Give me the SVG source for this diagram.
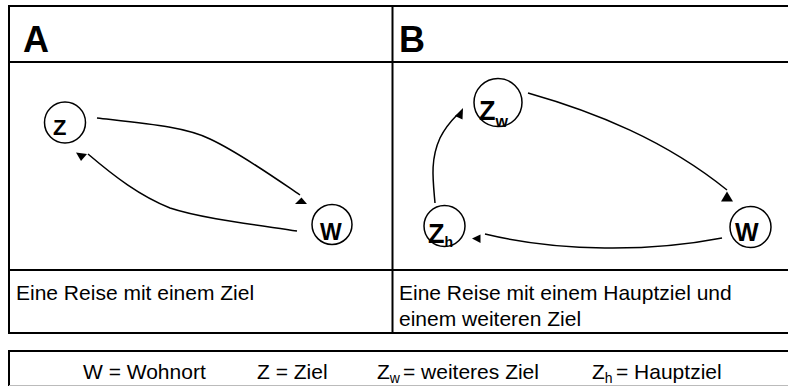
<svg xmlns="http://www.w3.org/2000/svg" width="788" height="386" viewBox="0 0 788 386">
<style>
.frame{fill:none;stroke:#000;stroke-width:2}
.node{fill:#fff;stroke:#000;stroke-width:1.5}
.lbl{font-family:"Liberation Sans",Arial,sans-serif;font-weight:bold;fill:#000}
.txt{font-family:"Liberation Sans",Arial,sans-serif;font-size:21px;fill:#000}
.head{font-family:"Liberation Sans",Arial,sans-serif;font-weight:bold;font-size:36px;fill:#000}
.edge{fill:none;stroke:#000;stroke-width:1.5}
.tip{fill:#000;stroke:none}
</style>
<rect width="788" height="386" fill="#fff"/>
<g id="table">
<line class="frame" x1="9" y1="6" x2="788" y2="6"/>
<line class="frame" x1="9" y1="62" x2="788" y2="62"/>
<line class="frame" x1="9" y1="270" x2="788" y2="270"/>
<line class="frame" x1="9" y1="333" x2="788" y2="333"/>
<line class="frame" x1="9" y1="5" x2="9" y2="334"/>
<line class="frame" x1="392.5" y1="6" x2="392.5" y2="334"/>
<text class="head" x="23" y="51.5">A</text>
<text class="head" x="399" y="51.5">B</text>
<text class="txt" x="16" y="300">Eine Reise mit einem Ziel</text>
<text class="txt" x="399" y="299.5">Eine Reise mit einem Hauptziel und</text>
<text class="txt" x="399" y="325.5">einem weiteren Ziel</text>
</g>
<g id="legend">
<line class="frame" x1="9" y1="351" x2="788" y2="351"/>
<line class="frame" x1="9" y1="350" x2="9" y2="386"/>
<line x1="9" y1="385.5" x2="788" y2="385.5" stroke="#bbb" stroke-width="1"/>
<text class="txt" x="83" y="379">W = Wohnort</text>
<text class="txt" x="257" y="379">Z = Ziel</text>
<text class="txt" x="377" y="379">Z<tspan font-size="14" dy="4">w</tspan><tspan dy="-4" x="403">= weiteres Ziel</tspan></text>
<text class="txt" x="592" y="379">Z<tspan font-size="14" dy="4">h</tspan><tspan dy="-4" x="616">= Hauptziel</tspan></text>
</g>
<g id="connectors">
<path class="edge" d="M97,118 C150,124 185,127 210,139 C240,153 275,178 300,195"/>
<polygon class="tip" points="301.5,197.5 295,204 307,204"/>
<path class="edge" d="M297,231 C250,224 200,218 170,208 C140,196 115,177 88,154"/>
<polygon class="tip" points="76,152.5 87,154 81,161"/>
<path class="edge" d="M528,93 C595,112 665,140 727,190"/>
<polygon class="tip" points="727,191.5 721,201.5 733,201.5"/>
<path class="edge" d="M722,238 C650,252 560,252 485,234"/>
<polygon class="tip" points="472,238.5 480.5,234.5 480.5,243"/>
<path class="edge" d="M435,203 C433,180 430,160 440,138 C445,128 450,122 457,115"/>
<polygon class="tip" points="463,108 462.5,119.5 455,116"/>
</g>
<g id="node-a-z">
<circle class="node" cx="65" cy="122.5" r="20.5"/>
<text class="lbl" x="53" y="135" font-size="22">Z</text>
</g>
<g id="node-a-w">
<circle class="node" cx="332" cy="224.5" r="20"/>
<text class="lbl" x="320" y="239.5" font-size="23">W</text>
</g>
<g id="node-b-zw">
<circle class="node" cx="498" cy="102.5" r="24"/>
<text class="lbl" x="479" y="120" font-size="27">Z<tspan font-size="16" dy="7">w</tspan></text>
</g>
<g id="node-b-zh">
<circle class="node" cx="444.5" cy="226" r="20.5"/>
<text class="lbl" x="428" y="242.5" font-size="27">Z<tspan font-size="14" dy="4.5">h</tspan></text>
</g>
<g id="node-b-w">
<circle class="node" cx="750.5" cy="227" r="20.5"/>
<text class="lbl" x="735" y="241" font-size="25">W</text>
</g>
</svg>
